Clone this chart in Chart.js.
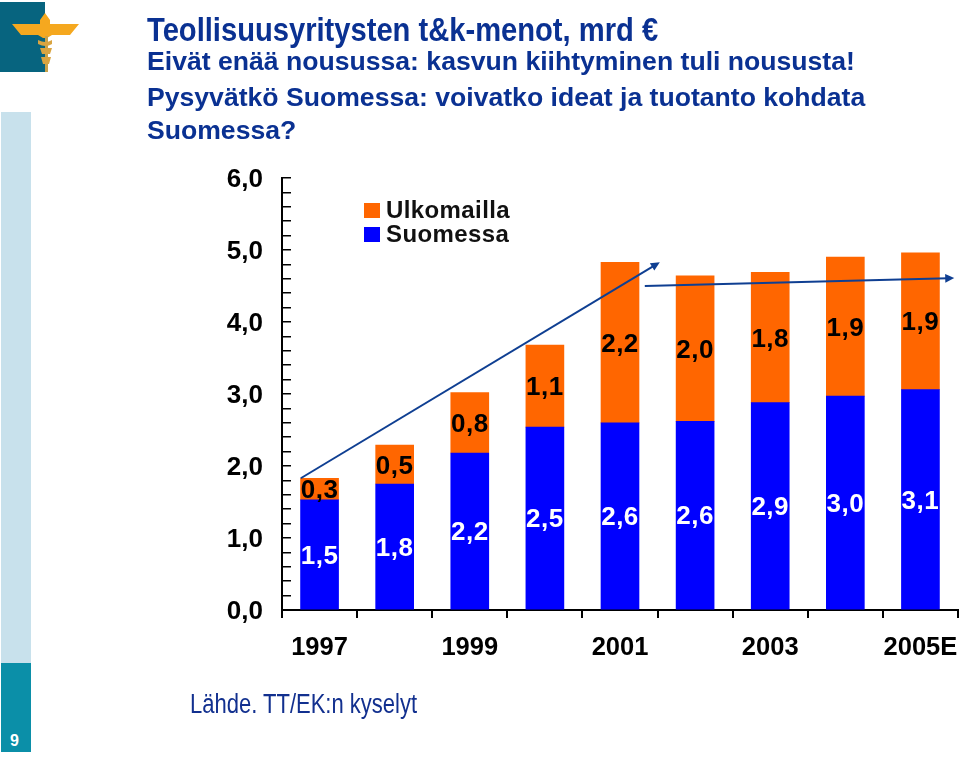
<!DOCTYPE html>
<html>
<head>
<meta charset="utf-8">
<script src="https://cdn.jsdelivr.net/npm/chart.js@4"></script>
<style>
  html, body { margin: 0; padding: 0; background: #fff; }
  #page { position: relative; width: 960px; height: 758px; overflow: hidden; font-family: "Liberation Sans", Arial, sans-serif; }
  #page canvas { position: absolute; left: 0; top: 0; }
  .txt { position: absolute; white-space: nowrap; color: #0a3192; transform-origin: left top; }
  .side { position: absolute; left: 1px; width: 30px; }
</style>
</head>
<body>
<div id="page">
  <canvas id="chart" width="960" height="758" style="width:960px;height:758px"></canvas>
  <div class="side" style="top:112px;height:551px;background:#c8e1ec"></div>
  <div class="side" style="top:663px;height:89px;background:#0b8fa8"></div>
  <div class="txt" style="left:10px;top:732px;font:bold 16px 'Liberation Sans';color:#fff">9</div>
  <svg style="position:absolute;left:0;top:0" width="90" height="80">
    <rect x="0" y="2" width="45" height="70" fill="#07647f"/>
    <path d="M12 24 L40 24 L40 20 L45 13 L50 20 L50 24 L79 24 L70 35 L52 35 L47 38 L43 38 L38 35 L21 35 Z" fill="#f5a81f"/>
    <rect x="45" y="36" width="3" height="36" fill="#c9a24a"/>
    <path d="M38 40 Q46 44 52 40 L52 44 Q46 48 38 44 Z M40 48 L52 48 L50 54 L42 54 Z M41 57 L51 57 L49 64 L43 64 Z" fill="#d9a441"/>
  </svg>
  <div class="txt" style="left:147px;top:10px;font:bold 34px 'Liberation Sans';transform:scaleX(.857)">Teollisuusyritysten t&amp;k-menot, mrd €</div>
  <div class="txt" style="left:147px;top:46px;font:bold 26.6px 'Liberation Sans'">Eivät enää nousussa: kasvun kiihtyminen tuli noususta!</div>
  <div class="txt" style="left:147px;top:82px;font:bold 26.6px 'Liberation Sans'">Pysyvätkö Suomessa: voivatko ideat ja tuotanto kohdata</div>
  <div class="txt" style="left:147px;top:115px;font:bold 26.6px 'Liberation Sans'">Suomessa?</div>
  <div class="txt" style="left:190px;top:689px;font:27px 'Liberation Sans';transform:scaleX(.815);color:#12308f">Lähde. TT/EK:n kyselyt</div>
</div>
<script>
const years = ['1997', '1998', '1999', '2000', '2001', '2002', '2003', '2004', '2005E'];
const suomessa = [1.53, 1.75, 2.18, 2.54, 2.60, 2.62, 2.88, 2.97, 3.06];
const ulkomailla = [0.30, 0.54, 0.84, 1.14, 2.23, 2.02, 1.81, 1.93, 1.90];
// arrows in axis units: [category index, value]
const riseArrow = [[-0.25, 1.83], [4.53, 4.83]];
const flatArrow = [[4.33, 4.50], [8.45, 4.61]];

const fontName = "'Liberation Sans', Arial, sans-serif";
const comma = v => v.toFixed(1).replace('.', ',');

const barLabels = {
  id: 'barLabels',
  afterDatasetsDraw(chart) {
    const ctx = chart.ctx;
    ctx.save();
    ctx.font = 'bold 26px ' + fontName;
    ctx.letterSpacing = '0.5px';
    ctx.textAlign = 'center';
    ctx.textBaseline = 'middle';
    chart.data.datasets.forEach((ds, i) => {
      ctx.fillStyle = i === 0 ? '#fff' : '#000';
      chart.getDatasetMeta(i).data.forEach((bar, j) => {
        ctx.fillText(comma(ds.data[j]), bar.x, (bar.y + bar.base) / 2 + 2);
      });
    });
    ctx.restore();
  }
};

function drawArrow(chart, pts) {
  const ctx = chart.ctx;
  const x = chart.scales.x, y = chart.scales.y;
  const step = x.getPixelForValue(1) - x.getPixelForValue(0);
  const x0 = x.getPixelForValue(0) + pts[0][0] * step, y0 = y.getPixelForValue(pts[0][1]);
  const x1 = x.getPixelForValue(0) + pts[1][0] * step, y1 = y.getPixelForValue(pts[1][1]);
  const a = Math.atan2(y1 - y0, x1 - x0);
  ctx.strokeStyle = ctx.fillStyle = '#0f3f92';
  ctx.lineWidth = 2;
  ctx.beginPath();
  ctx.moveTo(x0, y0);
  ctx.lineTo(x1 - 6 * Math.cos(a), y1 - 6 * Math.sin(a));
  ctx.stroke();
  ctx.beginPath();
  ctx.moveTo(x1, y1);
  ctx.lineTo(x1 - 10 * Math.cos(a - 0.45), y1 - 10 * Math.sin(a - 0.45));
  ctx.lineTo(x1 - 10 * Math.cos(a + 0.45), y1 - 10 * Math.sin(a + 0.45));
  ctx.fill();
}

const overlays = {
  id: 'overlays',
  afterDraw(chart) {
    const ctx = chart.ctx;
    ctx.save();
    drawArrow(chart, riseArrow);
    drawArrow(chart, flatArrow);
    // legend, top item is the upper stack
    ctx.font = 'bold 24px ' + fontName;
    ctx.letterSpacing = '0.4px';
    ctx.textBaseline = 'middle';
    [1, 0].forEach((i, row) => {
      const ds = chart.data.datasets[i];
      const top = 203 + row * 24;
      ctx.fillStyle = ds.backgroundColor;
      ctx.fillRect(364, top, 16, 15);
      ctx.fillStyle = '#111';
      ctx.fillText(ds.label, 386, top + 8);
    });
    ctx.restore();
  }
};

new Chart(document.getElementById('chart'), {
  type: 'bar',
  data: {
    labels: years,
    datasets: [
      { label: 'Suomessa', data: suomessa, backgroundColor: '#0000ff', barThickness: 38 },
      { label: 'Ulkomailla', data: ulkomailla, backgroundColor: '#ff6600', barThickness: 38 }
    ]
  },
  plugins: [barLabels, overlays],
  options: {
    responsive: false,
    animation: false,
    layout: { padding: { top: 178, right: 2, left: 0, bottom: 0 } },
    plugins: { legend: { display: false }, title: { display: false }, tooltip: { enabled: false } },
    scales: {
      x: {
        stacked: true,
        afterFit: s => { s.height = 148; s.paddingRight = 0; s.paddingLeft = 0; },
        grid: { offset: true, drawOnChartArea: false, tickLength: 8, color: '#000', lineWidth: 2 },
        border: { color: '#000', width: 2 },
        ticks: {
          autoSkip: false,
          maxRotation: 0,
          padding: 15,
          color: '#000',
          font: { family: fontName, size: 25.5, weight: 'bold' },
          callback(v, i) { return i % 2 === 0 ? this.getLabelForValue(v) : ''; }
        }
      },
      y: {
        stacked: true,
        min: 0,
        max: 6,
        afterFit: s => { s.width = 282; },
        grid: { drawOnChartArea: false, tickLength: -9, color: '#000', lineWidth: 1.5 },
        border: { color: '#000', width: 2 },
        ticks: {
          stepSize: 0.2,
          autoSkip: false,
          padding: 28,
          labelOffset: 2,
          color: '#000',
          font: { family: fontName, size: 26, weight: 'bold' },
          callback: v => Math.abs(v - Math.round(v)) < 1e-6 ? comma(v) : ''
        }
      }
    }
  }
});
</script>
</body>
</html>
